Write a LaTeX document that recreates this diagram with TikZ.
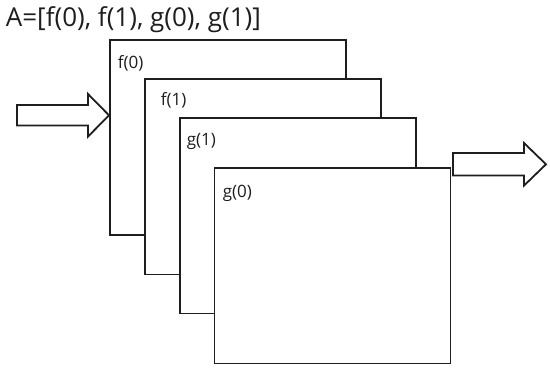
\documentclass[tikz,border=0pt]{standalone}
\usepackage{fontspec}
\setmainfont{Open Sans}
\usepackage{xcolor}
\usetikzlibrary{positioning}
\definecolor{Ink}{HTML}{1E1E1E}
\tikzset{
  every picture/.style={line width=1.8pt},
  stagebox/.style={
    draw=Ink,
    fill=white,
    anchor=north west,
    minimum width=236pt,
    minimum height=195.5pt,
    inner sep=0pt
  },
  stagelabel/.style={font=\fontsize{17}{20}\selectfont, text=Ink, inner sep=0pt, anchor=west},
  titlelabel/.style={font=\fontsize{26}{30}\selectfont, text=Ink, inner sep=0pt, anchor=base west},
  blockarrow/.style={draw=Ink, fill=white, line join=miter}
}

\begin{document}
\begin{tikzpicture}[x=1pt,y=-1pt]
  \useasboundingbox (0,0) rectangle (550,369);

  \node[titlelabel] (title) at (5,27) {A=[f(0), f(1), g(0), g(1)]};

  % stacked stages, back to front
  \node[stagebox] (fzero) at (109,39) {};
  \node[stagelabel] (fzerolab) at (117,63) {f(0)};
  \node[stagebox] (fone) at (144,78) {};
  \node[stagelabel] (fonelab) at (160,100) {f(1)};
  \node[stagebox] (gone) at (179,117) {};
  \node[stagelabel] (gonelab) at (186,141) {g(1)};
  \node[stagebox] (gzero) at (213.5,167) {};
  \node[stagelabel] (gzerolab) at (222,193) {g(0)};

  % input and output arrows
  \draw[blockarrow] (17,105) -- (88,105) -- (88,94) -- (fzero.west |- 0,115.3)
    -- (88,136.6) -- (88,125.6) -- (17,125.6) -- cycle;
  \draw[blockarrow] (453,153) -- (524,153) -- (524,143) -- (546,164.3)
    -- (524,185.6) -- (524,175.6) -- (453,175.6) -- cycle;
\end{tikzpicture}
\end{document}
